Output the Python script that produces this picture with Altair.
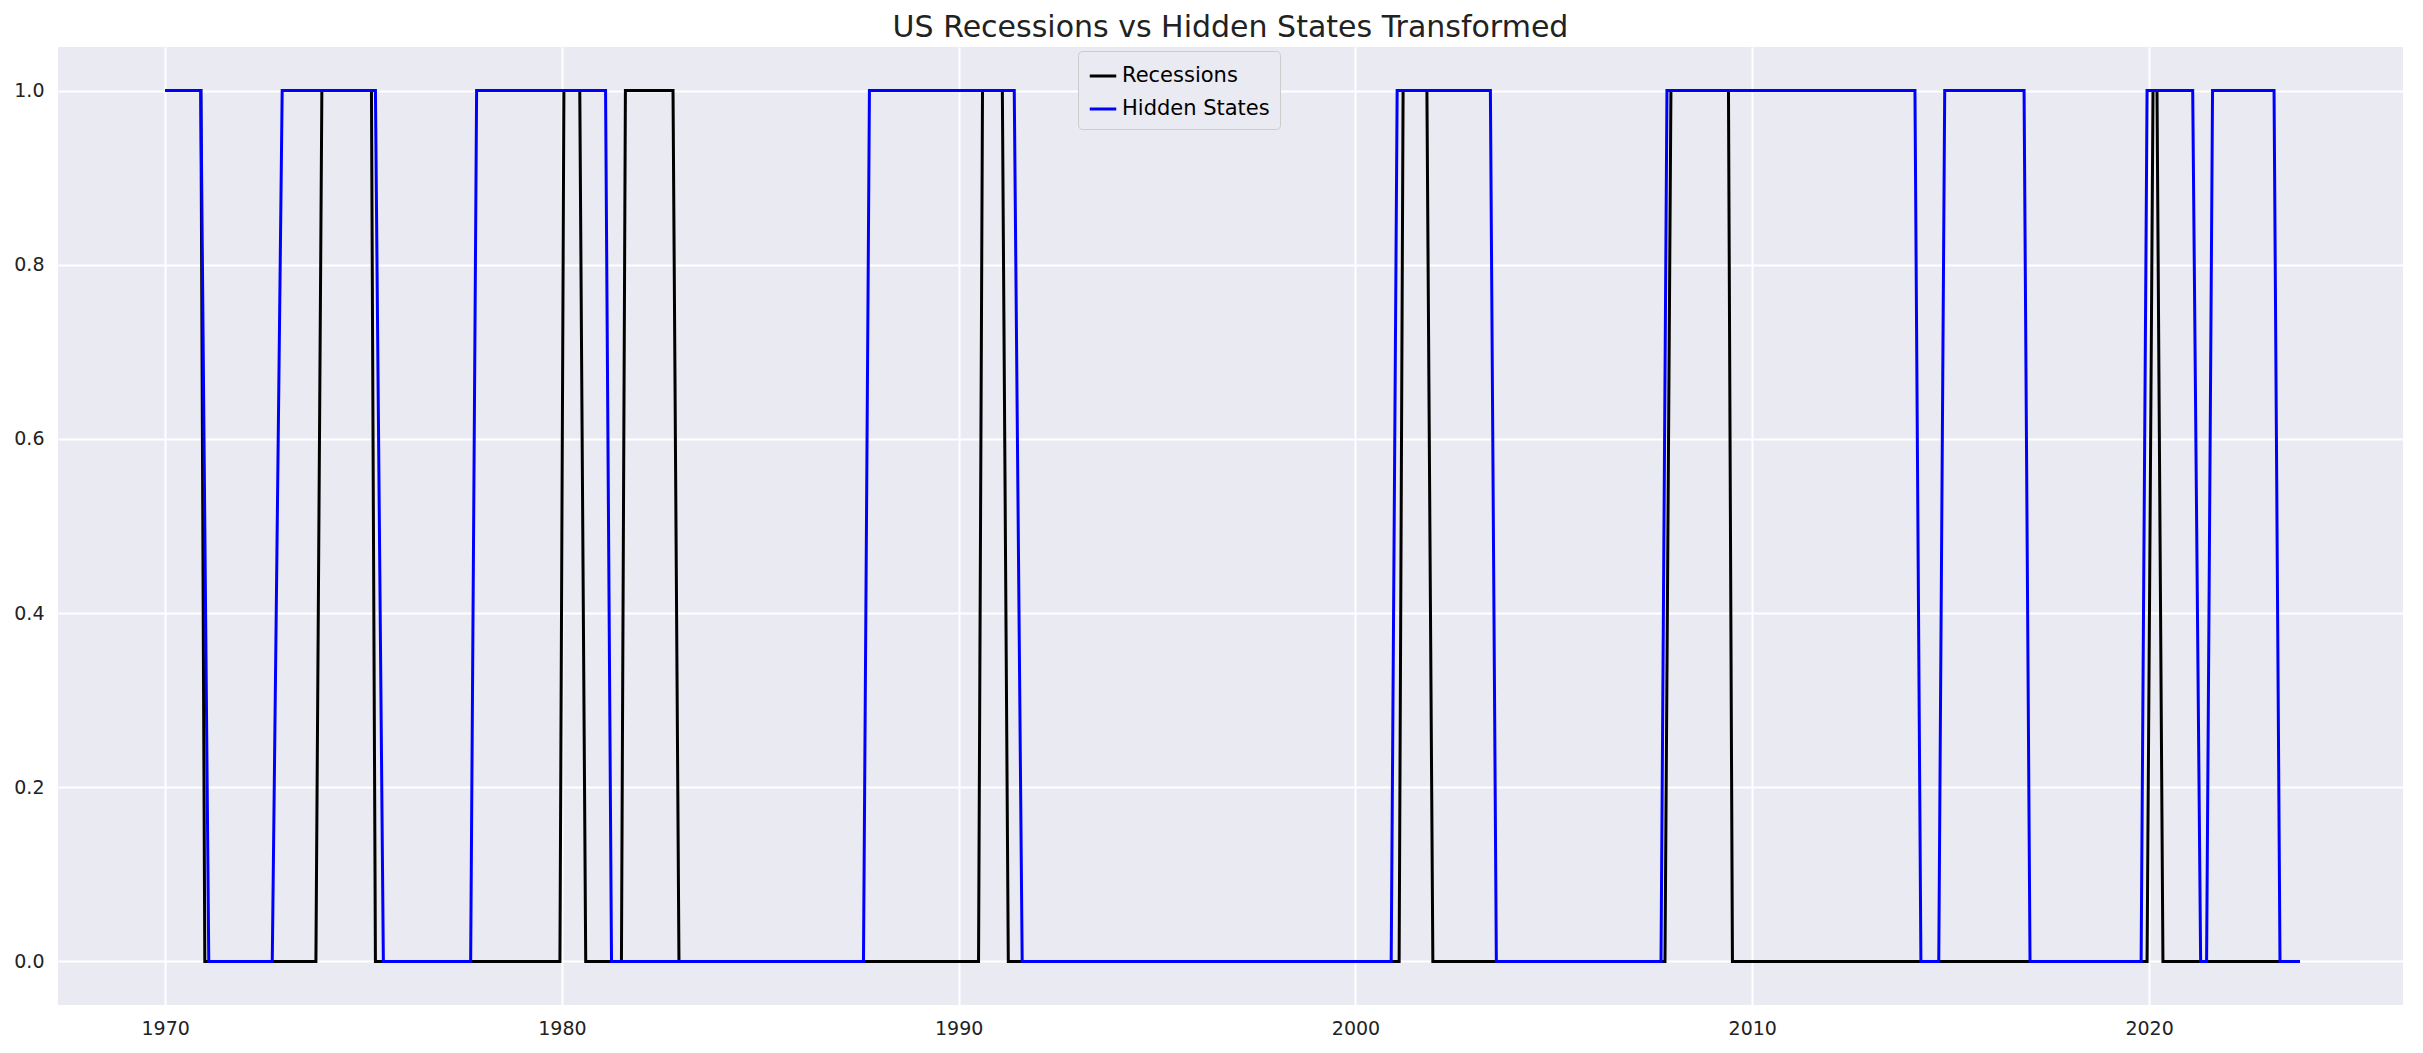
import altair as alt
import pandas as pd

# transition points (year, value)
rec_t = [1970.0, 1970.9, 1971.0, 1973.8, 1973.95, 1975.2, 1975.3, 1979.95, 1980.05, 1980.45, 1980.6,
         1981.5, 1981.6, 1982.8, 1982.95, 1990.5, 1990.6, 1991.1, 1991.25, 2001.1, 2001.2, 2001.8,
         2001.95, 2007.8, 2007.95, 2009.4, 2009.5, 2019.95, 2020.1, 2020.2, 2020.35, 2023.8]
rec_v = [1, 1, 0, 0, 1, 1, 0, 0, 1, 1, 0, 0, 1, 1, 0, 0, 1, 1, 0, 0, 1, 1, 0, 0, 1, 1, 0, 0, 1, 1, 0, 0]

hid_t = [1970.0, 1970.9, 1971.1, 1972.7, 1972.95, 1975.3, 1975.5, 1977.7, 1977.85, 1981.1, 1981.25,
         1987.6, 1987.75, 1991.4, 1991.6, 2000.9, 2001.05, 2003.4, 2003.55, 2007.7, 2007.85, 2014.1,
         2014.25, 2014.7, 2014.85, 2016.85, 2017.0, 2019.8, 2019.95, 2021.1, 2021.3, 2021.45, 2021.6,
         2023.15, 2023.3, 2023.8]
hid_v = [1, 1, 0, 0, 1, 1, 0, 0, 1, 1, 0, 0, 1, 1, 0, 0, 1, 1, 0, 0, 1, 1, 0, 0, 1, 1, 0, 0, 1, 1, 0, 0, 1, 1, 0, 0]

df = pd.concat([
    pd.DataFrame({"t": rec_t, "v": rec_v, "s": "Recessions", "o": range(len(rec_t))}),
    pd.DataFrame({"t": hid_t, "v": hid_v, "s": "Hidden States", "o": range(len(hid_t))}),
])

chart = alt.Chart(df).mark_line(strokeWidth=3).encode(
    x=alt.X("t:Q", title=None, scale=alt.Scale(domain=[1967.3, 2026.4], nice=False),
            axis=alt.Axis(values=[1970, 1980, 1990, 2000, 2010, 2020], format="d")),
    y=alt.Y("v:Q", title=None, scale=alt.Scale(domain=[-0.05, 1.05], nice=False),
            axis=alt.Axis(values=[0, 0.2, 0.4, 0.6, 0.8, 1.0], format=".1f")),
    color=alt.Color("s:N", scale=alt.Scale(domain=["Recessions", "Hidden States"], range=["black", "blue"]),
                    legend=alt.Legend(title=None, orient="none", legendX=1020, legendY=4,
                                      symbolType="stroke", symbolStrokeWidth=3,
                                      symbolSize=700, direction="vertical", labelFontSize=21,
                                      fillColor="#EAEAF2", strokeColor="#cccccc", padding=10,
                                      cornerRadius=4, rowPadding=8)),
    detail="s:N",
    order="o:Q",
).properties(
    width=2400, height=1035,
    autosize=alt.AutoSizeParams(type="fit", contains="padding"),
    title=alt.TitleParams("US Recessions vs Hidden States Transformed", fontSize=30, fontWeight="normal",
                          font="DejaVu Sans", color="#222"),
).configure_view(fill="#EAEAF2", stroke=None).configure_axis(
    grid=True, gridColor="white", gridWidth=2, domain=False, ticks=False,
    labelFontSize=19, labelFont="DejaVu Sans", labelColor="#222", labelPadding=14
).configure_legend(labelFont="DejaVu Sans")

chart.save("out.html", embed_options={"renderer": "svg", "actions": False})
